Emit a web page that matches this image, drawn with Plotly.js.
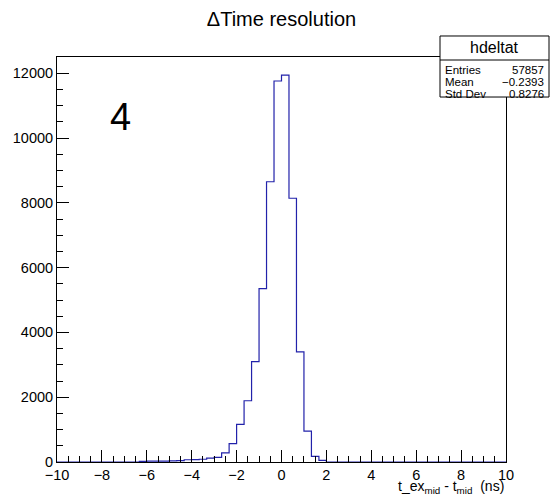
<!DOCTYPE html>
<html>
<head>
<meta charset="utf-8">
<script src="https://cdn.plot.ly/plotly-3.0.1.min.js"></script>
<style>html,body{margin:0;padding:0;background:#fff;}#chart{width:551px;height:495px;}</style>
</head>
<body>
<div id="chart"></div>
<script>
// Histogram "hdeltat": 60 bins from -10 to 10 ns
var binLow = -10;
var binHigh = 10;
var counts = [
  0,0,0,0,0,0,0,0,0,0,
  0,20,25,25,30,35,45,70,75,85,
  120,140,280,570,1160,1890,3100,5350,8650,11760,
  11940,8140,3400,950,176,50,0,0,0,0,
  0,0,0,0,0,0,0,0,0,0,
  0,0,0,0,0,0,0,0,0,0
];
var statLabels = ["Entries", "Mean", "Std Dev"];
var statValues = ["57857", "\u22120.2393", "0.8276"];
var histName = "hdeltat";
var padLabel = "4";

var nb = counts.length;
var bw = (binHigh - binLow) / nb;
var edges = [], ys = [];
for (var i = 0; i < nb; i++) { edges.push(binLow + i * bw); ys.push(counts[i]); }
edges.push(binHigh); ys.push(counts[nb - 1]);

var FONT = "Liberation Sans, Arial, Helvetica, sans-serif";
var L = 57, R = 506, T = 57, B = 461.7;
function px(x) { return (x - L) / (R - L); }
function py(y) { return (B - y) / (B - T); }

var trace = {
  x: edges, y: ys, type: "scatter", mode: "lines",
  line: { shape: "hv", color: "#2222aa", width: 1.2 },
  hoverinfo: "skip"
};

var annotations = [
  { text: histName, x: px(494.5), y: py(48), xref: "paper", yref: "paper",
    xanchor: "center", yanchor: "middle", showarrow: false,
    font: { family: FONT, size: 16, color: "#000" } },
  { text: padLabel, x: px(120), y: py(117), xref: "paper", yref: "paper",
    xanchor: "center", yanchor: "middle", showarrow: false,
    font: { family: FONT, size: 38, color: "#000" } },
  { text: "t_ex<sub>mid</sub> - t<sub>mid</sub>  (ns)", x: 1, y: py(487), xref: "paper", yref: "paper",
    xanchor: "right", yanchor: "middle", showarrow: false,
    font: { family: FONT, size: 14, color: "#000" } }
];
var rowY = [69.5, 82, 94];
for (var k = 0; k < statLabels.length; k++) {
  annotations.push({ text: statLabels[k], x: px(443), y: py(rowY[k]), xref: "paper", yref: "paper",
    xanchor: "left", yanchor: "middle", showarrow: false,
    font: { family: FONT, size: 11.5, color: "#000" } });
  annotations.push({ text: statValues[k], x: px(546), y: py(rowY[k]), xref: "paper", yref: "paper",
    xanchor: "right", yanchor: "middle", showarrow: false,
    font: { family: FONT, size: 11.5, color: "#000" } });
}

var layout = {
  width: 551, height: 495,
  margin: { l: L, r: 551 - R, t: T, b: 495 - B, pad: 0 },
  paper_bgcolor: "#fff", plot_bgcolor: "#fff",
  showlegend: false,
  title: { text: "\u0394Time resolution", x: 0.5, xref: "paper", xanchor: "center",
    y: 1 - 19 / 495, yref: "container", yanchor: "middle",
    font: { family: FONT, size: 20, color: "#000" } },
  xaxis: {
    range: [binLow, binHigh], tick0: -10, dtick: 2, ticks: "inside", ticklen: 12,
    tickcolor: "#000", tickwidth: 1,
    minor: { dtick: 0.5, ticks: "inside", ticklen: 6, tickcolor: "#000", tickwidth: 1 },
    showgrid: false, zeroline: false, showline: true, mirror: true,
    linecolor: "#000", linewidth: 1,
    tickfont: { family: FONT, size: 14.5, color: "#000" }
  },
  yaxis: {
    range: [0, 12500], tick0: 0, dtick: 2000, ticks: "inside", ticklen: 12,
    tickcolor: "#000", tickwidth: 1, tickformat: "d", exponentformat: "none",
    minor: { dtick: 500, ticks: "inside", ticklen: 6, tickcolor: "#000", tickwidth: 1 },
    showgrid: false, zeroline: false, showline: true, mirror: true,
    linecolor: "#000", linewidth: 1,
    tickfont: { family: FONT, size: 14.5, color: "#000" }
  },
  shapes: [
    { type: "rect", xref: "paper", yref: "paper", x0: px(440), x1: px(549), y0: py(97), y1: py(36),
      fillcolor: "#fff", line: { color: "#000", width: 1 }, layer: "above" },
    { type: "line", xref: "paper", yref: "paper", x0: px(440), x1: px(549), y0: py(60), y1: py(60),
      line: { color: "#000", width: 1 }, layer: "above" }
  ],
  annotations: annotations
};

Plotly.newPlot("chart", [trace], layout, { displayModeBar: false, staticPlot: true });
</script>
</body>
</html>
